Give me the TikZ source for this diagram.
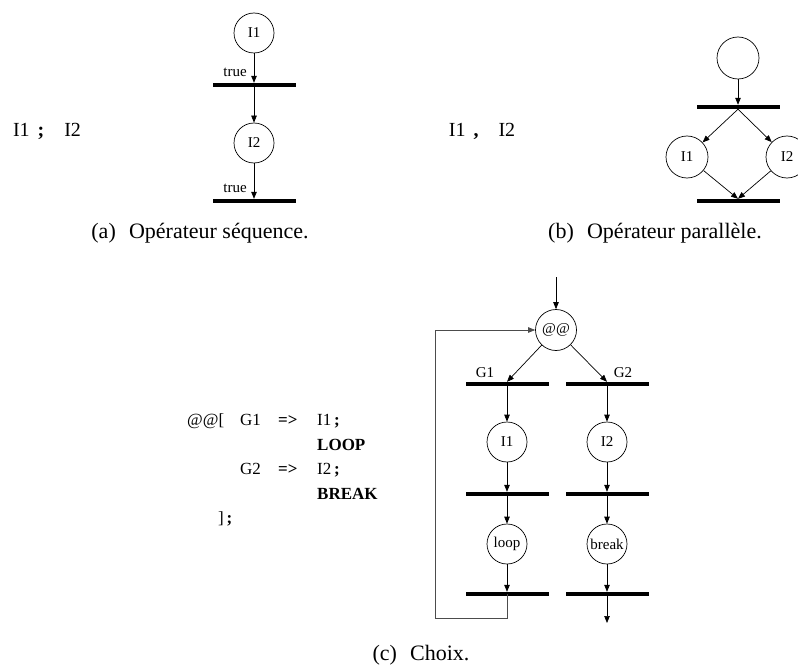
\documentclass[tikz,border=0pt]{standalone}
\usepackage{fontspec}
\setmainfont{Liberation Serif}
\usetikzlibrary{arrows.meta,positioning}

\begin{document}
\begin{tikzpicture}[x=1pt, y=-1pt,
  place/.style={draw, circle, line width=0.7pt, minimum size=40pt, inner sep=0pt, font=\fontsize{15}{15}\selectfont},
  bar/.style={fill=black, minimum width=83pt, minimum height=4pt, inner sep=0pt},
  arc/.style={-{Triangle[length=7pt, width=5.5pt]}, line width=0.7pt},
  lbl/.style={font=\fontsize{15}{15}\selectfont, inner sep=0pt},
  expr/.style={font=\fontsize{20}{20}\selectfont, inner sep=0pt},
  code/.style={font=\fontsize{17}{24.5}\selectfont, inner sep=0pt, align=left},
  subcap/.style={font=\fontsize{22}{22}\selectfont, inner sep=0pt}
]
\useasboundingbox (0,0) rectangle (798,666);

% (a) sequence
\node[expr] (seqtxt) at (47,131) {I1\hspace{0.4em}\textbf{;}\hspace{1em}I2};
\node[place] (a1) at (254,33) {I1};
\node[bar] (ta1) at (254,85) {};
\node[place] (a2) at (254,143) {I2};
\node[bar] (ta2) at (254,201) {};
\node[lbl, anchor=east] (true1) at (247,72) {true};
\node[lbl, anchor=east] (true2) at (247,188) {true};
\draw[arc] (a1) -- (ta1);
\draw[arc] (ta1) -- (a2);
\draw[arc] (a2) -- (ta2);
\node[subcap] (capa) at (200,233) {(a)\hspace{0.6em}Opérateur séquence.};

% (b) parallel
\node[expr] (partxt) at (482,131) {I1\hspace{0.4em}\textbf{,}\hspace{1em}I2};
\node[place, minimum size=42pt] (b0) at (738,58) {};
\node[bar] (tb1) at (738,107) {};
\node[place, minimum size=42pt] (b1) at (687,157) {I1};
\node[place, minimum size=42pt] (b2) at (787,157) {I2};
\node[bar] (tb2) at (738,201) {};
\draw[arc] (b0) -- (tb1);
\draw[arc] (tb1.south) -- (b1);
\draw[arc] (tb1.south) -- (b2);
\draw[arc] (b1) -- (tb2.north);
\draw[arc] (b2) -- (tb2.north);
\node[subcap] (capb) at (655,233) {(b)\hspace{0.6em}Opérateur parallèle.};

% (c) choice
\node[code, anchor=north west] (choicetxt) at (187,414) {%
\makebox[53pt][l]{@@[}\makebox[38pt][l]{G1}\makebox[39pt][l]{\textbf{=>}}I1\,\textbf{;}\\
\hspace*{130pt}\textbf{LOOP}\\
\hspace*{53pt}\makebox[38pt][l]{G2}\makebox[39pt][l]{\textbf{=>}}I2\,\textbf{;}\\
\hspace*{130pt}\textbf{BREAK}\\
\hspace*{31pt}]\,\textbf{;}};
\coordinate (cin) at (556,277);
\node[place, minimum size=41pt] (c0) at (556,330) {@@};
\node[bar] (g1) at (507,384) {};
\node[bar] (g2) at (607,384) {};
\node[lbl] (g1lbl) at (485,373) {G1};
\node[lbl] (g2lbl) at (623,373) {G2};
\node[place] (c1) at (507,442) {I1};
\node[place] (c2) at (607,442) {I2};
\node[bar] (l1) at (507,494) {};
\node[bar] (r1) at (607,494) {};
\node[place] (cloop) at (507,544) {loop};
\node[place] (cbrk) at (607,544) {break};
\node[bar] (l2) at (507,594) {};
\node[bar] (r2) at (607,594) {};
\coordinate (back) at (435,618);
\coordinate (cout) at (607,623);
\draw[arc] (cin) -- (c0);
\draw[arc] (c0) -- (g1.north);
\draw[arc] (c0) -- (g2.north);
\draw[arc] (g1) -- (c1);
\draw[arc] (g2) -- (c2);
\draw[arc] (c1) -- (l1);
\draw[arc] (c2) -- (r1);
\draw[arc] (l1) -- (cloop);
\draw[arc] (r1) -- (cbrk);
\draw[arc] (cloop) -- (l2);
\draw[arc] (cbrk) -- (r2);
\draw[arc] (r2.center) -- (cout);
\draw[arc, black!70] (l2.center) |- (back) |- (c0);
\node[subcap] (capc) at (421,655) {(c)\hspace{0.6em}Choix.};
\end{tikzpicture}
\end{document}
